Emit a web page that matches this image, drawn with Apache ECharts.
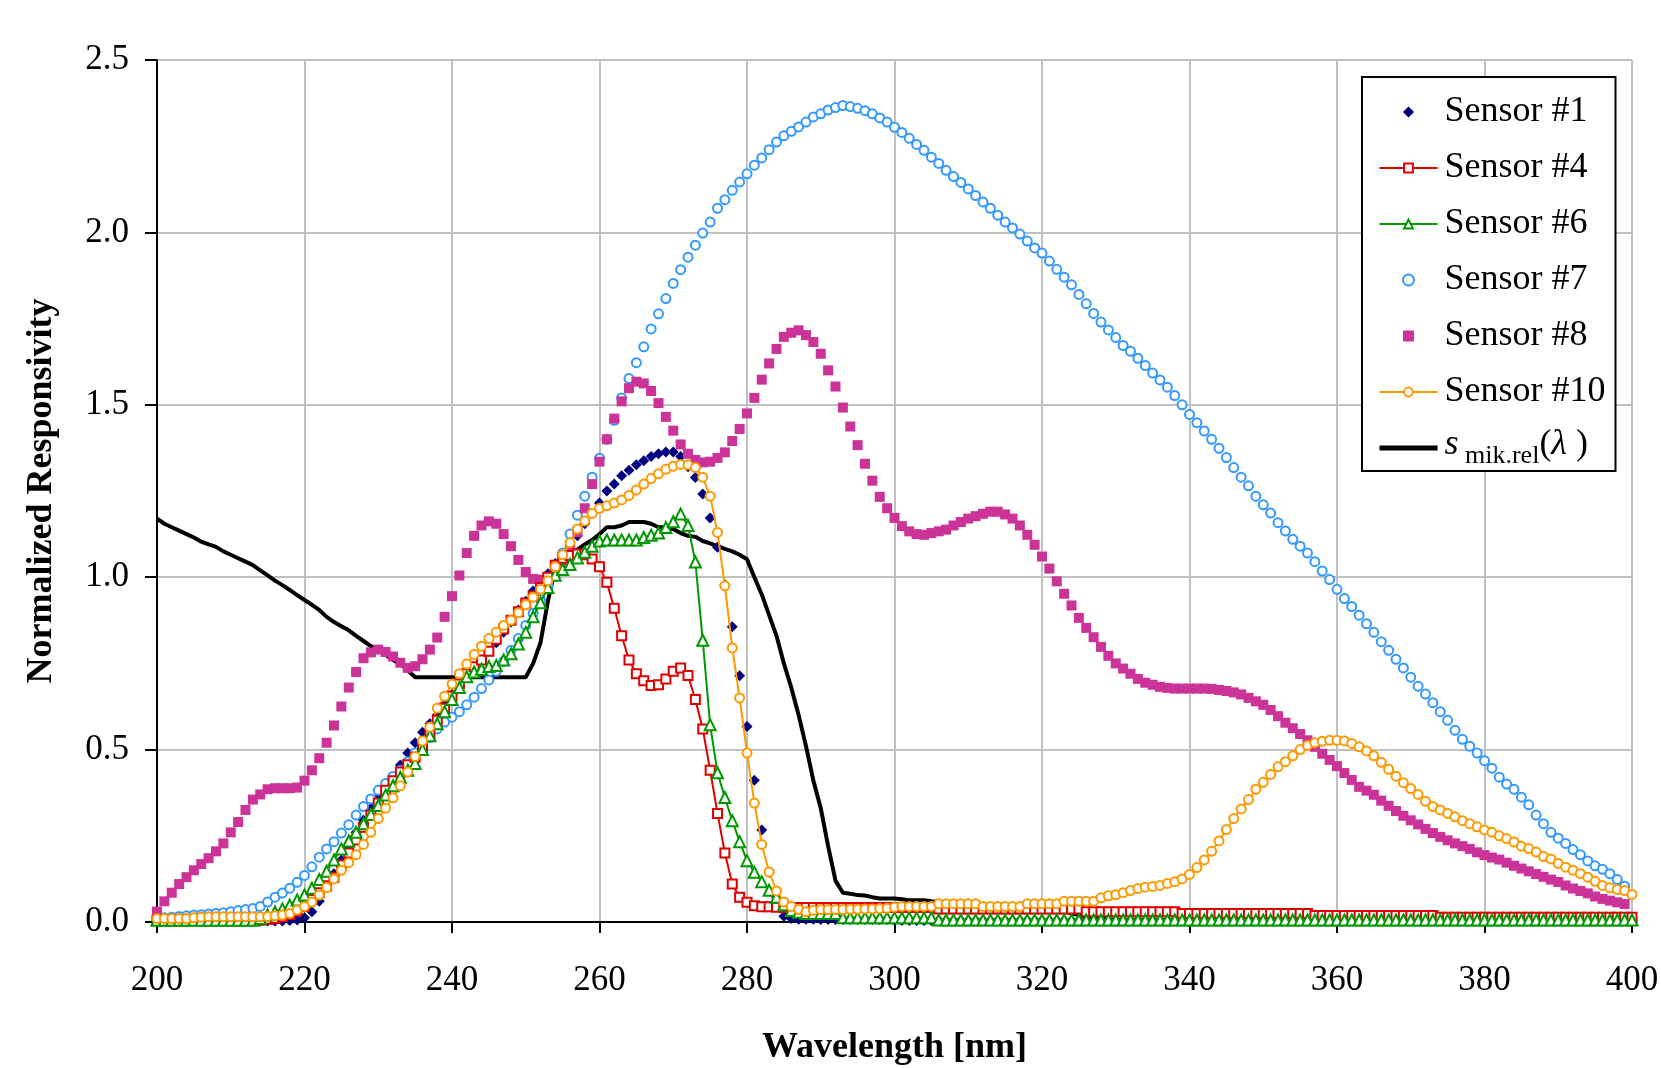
<!DOCTYPE html>
<html>
<head>
<meta charset="utf-8">
<title>Normalized Responsivity</title>
<script src="https://cdn.jsdelivr.net/npm/echarts@6.0.0/dist/echarts.min.js"></script>
<style>
  html, body { margin: 0; padding: 0; background: #fff; }
  #chart { width: 1661px; height: 1068px; }
</style>
</head>
<body>
<div id="chart"></div>
<script>
// wavelength grid, 1 nm steps
const wavelengths = [
  200, 201, 202, 203, 204, 205, 206, 207, 208, 209, 210, 211, 212, 213, 214, 215, 216, 217, 218, 219,
  220, 221, 222, 223, 224, 225, 226, 227, 228, 229, 230, 231, 232, 233, 234, 235, 236, 237, 238, 239,
  240, 241, 242, 243, 244, 245, 246, 247, 248, 249, 250, 251, 252, 253, 254, 255, 256, 257, 258, 259,
  260, 261, 262, 263, 264, 265, 266, 267, 268, 269, 270, 271, 272, 273, 274, 275, 276, 277, 278, 279,
  280, 281, 282, 283, 284, 285, 286, 287, 288, 289, 290, 291, 292, 293, 294, 295, 296, 297, 298, 299,
  300, 301, 302, 303, 304, 305, 306, 307, 308, 309, 310, 311, 312, 313, 314, 315, 316, 317, 318, 319,
  320, 321, 322, 323, 324, 325, 326, 327, 328, 329, 330, 331, 332, 333, 334, 335, 336, 337, 338, 339,
  340, 341, 342, 343, 344, 345, 346, 347, 348, 349, 350, 351, 352, 353, 354, 355, 356, 357, 358, 359,
  360, 361, 362, 363, 364, 365, 366, 367, 368, 369, 370, 371, 372, 373, 374, 375, 376, 377, 378, 379,
  380, 381, 382, 383, 384, 385, 386, 387, 388, 389, 390, 391, 392, 393, 394, 395, 396, 397, 398, 399,
  400
];

const sensor1 = [
  0.003, 0.003, 0.003, 0.003, 0.003, 0.003, 0.003, 0.003, 0.003, 0.003, // 200
  0.003, 0.003, 0.003, 0.003, 0.003, 0.003, 0.003, 0.003, 0.004, 0.006, // 210
  0.012, 0.03, 0.06, 0.1, 0.14, 0.18, 0.22, 0.26, 0.295, 0.33,          // 220
  0.36, 0.39, 0.42, 0.455, 0.49, 0.52, 0.55, 0.575, 0.6, 0.63,          // 230
  0.66, 0.685, 0.71, 0.735, 0.76, 0.785, 0.81, 0.84, 0.87, 0.905,       // 240
  0.93, 0.96, 0.985, 1.01, 1.04, 1.065, 1.09, 1.12, 1.155, 1.185,       // 250
  1.215, 1.25, 1.27, 1.294, 1.31, 1.326, 1.338, 1.35, 1.358, 1.363,     // 260
  1.363, 1.35, 1.32, 1.289, 1.241, 1.172, 1.087, 0.978, 0.856, 0.714,   // 270
  0.567, 0.411, 0.267, 0.144, 0.072, 0.017, 0.01, 0.008, 0.008, 0.008,  // 280
  0.007, 0.007, 0.007, 0.007, 0.007, 0.007, 0.007, 0.007, 0.007, 0.007, // 290
  0.004, 0.004, 0.004, 0.004, 0.004, 0.004, 0.004, 0.004, 0.004, 0.004, // 300
  0.004, 0.004, 0.004, 0.004, 0.004, 0.004, 0.004, 0.004, 0.004, 0.004, // 310
  0.004, 0.004, 0.004, 0.004, 0.004, 0.004, 0.004, 0.004, 0.004, 0.004, // 320
  0.004, 0.004, 0.004, 0.004, 0.004, 0.004, 0.004, 0.004, 0.004, 0.004, // 330
  0.004, 0.004, 0.004, 0.004, 0.004, 0.004, 0.004, 0.004, 0.004, 0.004, // 340
  0.004, 0.004, 0.004, 0.004, 0.004, 0.004, 0.004, 0.004, 0.004, 0.004, // 350
  0.004, 0.004, 0.004, 0.004, 0.004, 0.004, 0.004, 0.004, 0.004, 0.004, // 360
  0.004, 0.004, 0.004, 0.004, 0.004, 0.004, 0.004, 0.004, 0.004, 0.004, // 370
  0.004, 0.004, 0.004, 0.004, 0.004, 0.004, 0.004, 0.004, 0.004, 0.004, // 380
  0.004, 0.004, 0.004, 0.004, 0.004, 0.004, 0.004, 0.004, 0.004, 0.004, // 390
  0.004
];

const sensor4 = [
  0.005, 0.005, 0.005, 0.005, 0.005, 0.005, 0.005, 0.005, 0.005, 0.005, // 200
  0.005, 0.005, 0.005, 0.005, 0.005, 0.008, 0.01, 0.015, 0.022, 0.032,  // 210
  0.045, 0.065, 0.085, 0.105, 0.13, 0.165, 0.2, 0.238, 0.275, 0.31,     // 220
  0.345, 0.382, 0.41, 0.435, 0.456, 0.478, 0.505, 0.545, 0.585, 0.62,   // 230
  0.655, 0.69, 0.72, 0.74, 0.76, 0.785, 0.82, 0.85, 0.875, 0.9,         // 240
  0.925, 0.945, 0.97, 1.0, 1.035, 1.055, 1.063, 1.067, 1.065, 1.053,    // 250
  1.03, 0.985, 0.91, 0.83, 0.76, 0.72, 0.7, 0.686, 0.688, 0.705,       // 260
  0.727, 0.737, 0.715, 0.645, 0.56, 0.44, 0.315, 0.2, 0.11, 0.072,     // 270
  0.057, 0.047, 0.044, 0.044, 0.043, 0.042, 0.042, 0.042, 0.042, 0.042, // 280
  0.042, 0.042, 0.042, 0.042, 0.042, 0.042, 0.042, 0.042, 0.042, 0.042, // 290
  0.042, 0.042, 0.042, 0.042, 0.042, 0.042, 0.038, 0.038, 0.038, 0.038, // 300
  0.038, 0.038, 0.038, 0.038, 0.038, 0.038, 0.038, 0.038, 0.038, 0.038, // 310
  0.038, 0.038, 0.038, 0.038, 0.038, 0.038, 0.03, 0.03, 0.03, 0.03,     // 320
  0.03, 0.03, 0.03, 0.03, 0.03, 0.03, 0.03, 0.03, 0.03, 0.025,          // 330
  0.025, 0.025, 0.025, 0.025, 0.025, 0.025, 0.025, 0.025, 0.025, 0.025, // 340
  0.025, 0.025, 0.025, 0.025, 0.025, 0.025, 0.025, 0.019, 0.019, 0.019, // 350
  0.019, 0.019, 0.019, 0.019, 0.019, 0.019, 0.019, 0.019, 0.019, 0.019, // 360
  0.019, 0.019, 0.019, 0.019, 0.014, 0.014, 0.014, 0.014, 0.014, 0.014, // 370
  0.014, 0.014, 0.014, 0.014, 0.014, 0.014, 0.014, 0.014, 0.014, 0.014, // 380
  0.014, 0.014, 0.014, 0.014, 0.014, 0.014, 0.014, 0.014, 0.014, 0.014, // 390
  0.014
];

const sensor6 = [
  0.005, 0.005, 0.005, 0.005, 0.005, 0.005, 0.005, 0.005, 0.005, 0.005, // 200
  0.005, 0.005, 0.005, 0.005, 0.01, 0.02, 0.029, 0.038, 0.049, 0.064,  // 210
  0.078, 0.098, 0.123, 0.147, 0.18, 0.212, 0.235, 0.26, 0.285, 0.312,  // 220
  0.338, 0.368, 0.395, 0.42, 0.44, 0.46, 0.5, 0.54, 0.575, 0.61,       // 230
  0.645, 0.68, 0.711, 0.725, 0.733, 0.741, 0.744, 0.76, 0.778, 0.806,  // 240
  0.84, 0.885, 0.926, 0.97, 1.006, 1.022, 1.037, 1.056, 1.072, 1.09,   // 250
  1.105, 1.108, 1.108, 1.108, 1.108, 1.108, 1.115, 1.122, 1.128, 1.144, // 260
  1.161, 1.183, 1.15, 1.044, 0.817, 0.572, 0.433, 0.361, 0.294, 0.233, // 270
  0.178, 0.144, 0.117, 0.092, 0.072, 0.05, 0.033, 0.028, 0.025, 0.025, // 280
  0.025, 0.025, 0.025, 0.012, 0.012, 0.012, 0.012, 0.012, 0.012, 0.012, // 290
  0.012, 0.012, 0.012, 0.012, 0.012, 0.012, 0.006, 0.006, 0.006, 0.006, // 300
  0.006, 0.006, 0.006, 0.006, 0.006, 0.006, 0.006, 0.006, 0.006, 0.006, // 310
  0.006, 0.006, 0.006, 0.006, 0.006, 0.006, 0.006, 0.006, 0.006, 0.006, // 320
  0.006, 0.006, 0.006, 0.006, 0.006, 0.006, 0.006, 0.006, 0.006, 0.006, // 330
  0.006, 0.006, 0.006, 0.006, 0.006, 0.006, 0.006, 0.006, 0.006, 0.006, // 340
  0.006, 0.006, 0.006, 0.006, 0.006, 0.006, 0.006, 0.006, 0.006, 0.006, // 350
  0.006, 0.006, 0.006, 0.006, 0.006, 0.006, 0.006, 0.006, 0.006, 0.006, // 360
  0.006, 0.006, 0.006, 0.006, 0.006, 0.006, 0.006, 0.006, 0.006, 0.006, // 370
  0.006, 0.006, 0.006, 0.006, 0.006, 0.006, 0.006, 0.006, 0.006, 0.006, // 380
  0.006, 0.006, 0.006, 0.006, 0.006, 0.006, 0.006, 0.006, 0.006, 0.006, // 390
  0.006
];

const sensor7 = [
  0.01, 0.012, 0.014, 0.016, 0.018, 0.02, 0.021, 0.023, 0.025, 0.027,   // 200
  0.03, 0.033, 0.036, 0.039, 0.045, 0.058, 0.072, 0.084, 0.098, 0.115,  // 210
  0.135, 0.16, 0.188, 0.212, 0.233, 0.258, 0.282, 0.31, 0.335, 0.357,   // 220
  0.382, 0.402, 0.422, 0.44, 0.465, 0.49, 0.51, 0.535, 0.56, 0.58,      // 230
  0.594, 0.61, 0.63, 0.652, 0.677, 0.702, 0.727, 0.756, 0.788, 0.822,   // 240
  0.86, 0.895, 0.935, 0.975, 1.015, 1.07, 1.125, 1.18, 1.235, 1.29,     // 250
  1.345, 1.4, 1.455, 1.52, 1.576, 1.622, 1.668, 1.72, 1.764, 1.808,     // 260
  1.852, 1.892, 1.928, 1.963, 1.998, 2.03, 2.07, 2.095, 2.122, 2.146,   // 270
  2.17, 2.195, 2.216, 2.24, 2.262, 2.28, 2.293, 2.306, 2.32, 2.335,     // 280
  2.344, 2.355, 2.362, 2.368, 2.365, 2.36, 2.353, 2.344, 2.332, 2.32,   // 290
  2.305, 2.29, 2.273, 2.255, 2.238, 2.218, 2.2, 2.18, 2.162, 2.145,     // 300
  2.126, 2.107, 2.088, 2.07, 2.05, 2.03, 2.013, 1.995, 1.975, 1.955,    // 310
  1.94, 1.917, 1.893, 1.87, 1.848, 1.82, 1.793, 1.765, 1.74, 1.717,     // 320
  1.695, 1.672, 1.655, 1.635, 1.614, 1.592, 1.572, 1.551, 1.527, 1.5,   // 330
  1.472, 1.448, 1.424, 1.4, 1.374, 1.347, 1.318, 1.29, 1.265, 1.235,    // 340
  1.21, 1.186, 1.158, 1.134, 1.11, 1.09, 1.07, 1.045, 1.018, 0.993,     // 350
  0.965, 0.938, 0.915, 0.89, 0.865, 0.84, 0.813, 0.788, 0.762, 0.737,   // 360
  0.71, 0.684, 0.661, 0.636, 0.61, 0.585, 0.556, 0.53, 0.51, 0.49,      // 370
  0.468, 0.446, 0.42, 0.4, 0.385, 0.362, 0.34, 0.31, 0.285, 0.26,       // 380
  0.243, 0.228, 0.21, 0.195, 0.177, 0.163, 0.153, 0.14, 0.123, 0.104,   // 390
  0.005
];

const sensor8 = [
  0.03, 0.06, 0.085, 0.11, 0.13, 0.15, 0.168, 0.185, 0.205, 0.228,     // 200
  0.26, 0.29, 0.325, 0.355, 0.37, 0.385, 0.388, 0.388, 0.388, 0.39,    // 210
  0.41, 0.44, 0.475, 0.52, 0.57, 0.625, 0.68, 0.725, 0.765, 0.782,     // 220
  0.79, 0.783, 0.77, 0.752, 0.737, 0.742, 0.762, 0.79, 0.825, 0.885,   // 230
  0.945, 1.005, 1.07, 1.12, 1.15, 1.162, 1.155, 1.125, 1.09, 1.05,     // 240
  1.015, 0.995, 0.993, 0.995, 1.01, 1.04, 1.08, 1.13, 1.2, 1.27,       // 250
  1.335, 1.4, 1.46, 1.51, 1.548, 1.567, 1.562, 1.54, 1.505, 1.465,     // 260
  1.425, 1.385, 1.358, 1.34, 1.333, 1.335, 1.346, 1.362, 1.395, 1.43,  // 270
  1.475, 1.52, 1.573, 1.62, 1.662, 1.697, 1.709, 1.716, 1.702, 1.682,  // 280
  1.648, 1.6, 1.553, 1.492, 1.437, 1.383, 1.329, 1.28, 1.233, 1.2,     // 290
  1.172, 1.148, 1.133, 1.125, 1.123, 1.128, 1.133, 1.138, 1.15, 1.16,  // 300
  1.17, 1.177, 1.184, 1.19, 1.19, 1.182, 1.17, 1.15, 1.123, 1.094,     // 310
  1.06, 1.025, 0.988, 0.952, 0.918, 0.882, 0.853, 0.826, 0.798, 0.772, // 320
  0.75, 0.735, 0.72, 0.705, 0.694, 0.688, 0.682, 0.679, 0.677, 0.677,  // 330
  0.677, 0.677, 0.677, 0.676, 0.673, 0.67, 0.666, 0.66, 0.65, 0.64,    // 340
  0.63, 0.615, 0.597, 0.578, 0.562, 0.545, 0.527, 0.508, 0.488, 0.47,  // 350
  0.452, 0.432, 0.412, 0.392, 0.381, 0.369, 0.352, 0.337, 0.322, 0.308, // 360
  0.295, 0.283, 0.27, 0.258, 0.247, 0.237, 0.228, 0.22, 0.212, 0.202,  // 370
  0.194, 0.187, 0.181, 0.172, 0.163, 0.155, 0.147, 0.139, 0.131, 0.123, // 380
  0.116, 0.106, 0.097, 0.09, 0.083, 0.074, 0.067, 0.062, 0.057, 0.052, // 390
  0.01
];

const sensor10 = [
  0.01, 0.01, 0.01, 0.01, 0.01, 0.012, 0.014, 0.015, 0.015, 0.015,     // 200
  0.015, 0.015, 0.015, 0.015, 0.015, 0.016, 0.018, 0.02, 0.025, 0.035, // 210
  0.045, 0.058, 0.078, 0.1, 0.125, 0.15, 0.172, 0.195, 0.225, 0.26,    // 220
  0.3, 0.33, 0.36, 0.395, 0.435, 0.48, 0.525, 0.565, 0.62, 0.655,      // 230
  0.69, 0.72, 0.748, 0.776, 0.8, 0.822, 0.84, 0.86, 0.875, 0.897,      // 240
  0.92, 0.942, 0.965, 0.99, 1.03, 1.065, 1.1, 1.14, 1.163, 1.185,      // 250
  1.2, 1.207, 1.215, 1.224, 1.237, 1.253, 1.27, 1.286, 1.3, 1.313,     // 260
  1.322, 1.327, 1.326, 1.318, 1.29, 1.235, 1.13, 0.975, 0.795, 0.65,   // 270
  0.49, 0.345, 0.225, 0.145, 0.09, 0.058, 0.045, 0.036, 0.03, 0.034,   // 280
  0.036, 0.036, 0.036, 0.036, 0.037, 0.037, 0.038, 0.038, 0.039, 0.04, // 290
  0.043, 0.045, 0.045, 0.045, 0.045, 0.045, 0.053, 0.053, 0.053, 0.053, // 300
  0.053, 0.053, 0.045, 0.045, 0.045, 0.045, 0.045, 0.045, 0.053, 0.053, // 310
  0.053, 0.053, 0.053, 0.06, 0.06, 0.06, 0.06, 0.06, 0.07, 0.076,     // 320
  0.079, 0.085, 0.091, 0.097, 0.101, 0.103, 0.106, 0.112, 0.117, 0.125, // 330
  0.138, 0.158, 0.18, 0.205, 0.235, 0.268, 0.3, 0.328, 0.355, 0.385,   // 340
  0.405, 0.428, 0.45, 0.465, 0.482, 0.5, 0.512, 0.52, 0.524, 0.527,    // 350
  0.527, 0.525, 0.518, 0.508, 0.496, 0.482, 0.463, 0.443, 0.423, 0.404, // 360
  0.387, 0.37, 0.35, 0.335, 0.325, 0.315, 0.305, 0.294, 0.285, 0.276,  // 370
  0.267, 0.26, 0.25, 0.242, 0.232, 0.22, 0.213, 0.203, 0.19, 0.183,    // 380
  0.17, 0.159, 0.15, 0.14, 0.13, 0.118, 0.106, 0.099, 0.094, 0.091,    // 390
  0.08
];

// s_mik.rel(lambda)
const sMikRel = [
  1.17, 1.155, 1.145, 1.135, 1.125, 1.115, 1.103, 1.095, 1.088, 1.075, // 200
  1.065, 1.055, 1.045, 1.035, 1.02, 1.005, 0.99, 0.977, 0.963, 0.948,  // 210
  0.934, 0.92, 0.905, 0.885, 0.87, 0.858, 0.846, 0.83, 0.815, 0.8,     // 220
  0.79, 0.775, 0.76, 0.748, 0.73, 0.71, 0.71, 0.71, 0.71, 0.71,        // 230
  0.71, 0.71, 0.71, 0.71, 0.71, 0.71, 0.71, 0.71, 0.71, 0.71,          // 240
  0.71, 0.75, 0.81, 0.93, 1.028, 1.05, 1.07, 1.08, 1.095, 1.108,       // 250
  1.125, 1.145, 1.145, 1.15, 1.16, 1.16, 1.16, 1.155, 1.145, 1.145,    // 260
  1.14, 1.128, 1.12, 1.117, 1.105, 1.098, 1.09, 1.082, 1.075, 1.065,   // 270
  1.052, 1.0, 0.95, 0.89, 0.83, 0.75, 0.68, 0.6, 0.51, 0.41,           // 280
  0.33, 0.22, 0.12, 0.085, 0.082, 0.078, 0.077, 0.072, 0.068, 0.068,   // 290
  0.068, 0.066, 0.063, 0.063, 0.063, 0.06, 0.058, 0.056, 0.054, 0.053, // 300
  0.052, 0.05, 0.05, 0.049, 0.048, 0.048, 0.047, 0.046, 0.046, 0.045,  // 310
  0.045, 0.04, 0.035, 0.03, 0.025, 0.02, 0.015, 0.012, 0.01, 0.008,    // 320
  0.006, 0.005, 0.005, 0.005, 0.005, 0.005, 0.005, 0.005, 0.005, 0.005, // 330
  0.005, 0.005, 0.005, 0.005, 0.005, 0.005, 0.005, 0.005, 0.005, 0.005, // 340
  0.005, 0.005, 0.005, 0.005, 0.005, 0.005, 0.005, 0.005, 0.005, 0.005, // 350
  0.004, 0.004, 0.004, 0.004, 0.004, 0.004, 0.004, 0.004, 0.004, 0.004, // 360
  0.004, 0.004, 0.004, 0.004, 0.004, 0.004, 0.004, 0.004, 0.004, 0.004, // 370
  0.003, 0.003, 0.003, 0.003, 0.003, 0.003, 0.003, 0.003, 0.003, 0.003, // 380
  0.003, 0.003, 0.003, 0.003, 0.003, 0.003, 0.003, 0.003, 0.003, 0.003, // 390
  0.003
];

const yTickLabels = ['0.0', '0.5', '1.0', '1.5', '2.0', '2.5'];
const S_MIK = 's_mik.rel';
const FONT = '"Liberation Serif", "Times New Roman", serif';

const pairs = vals => wavelengths.map((w, i) => [w, vals[i]]);

const chart = echarts.init(document.getElementById('chart'));

chart.setOption({
  animation: false,
  backgroundColor: '#fff',
  grid: { left: 157, right: 29, top: 60, bottom: 146, containLabel: false, outerBoundsMode: 'none' },
  xAxis: {
    type: 'value',
    min: 200,
    max: 400,
    interval: 20,
    name: 'Wavelength [nm]',
    nameLocation: 'middle',
    nameGap: 108,
    nameTextStyle: { fontFamily: FONT, fontWeight: 'bold', fontSize: 36, color: '#000' },
    axisLine: { show: true, onZero: false, lineStyle: { color: '#000', width: 2 } },
    axisTick: { show: true, length: 11, lineStyle: { color: '#000', width: 2 } },
    axisLabel: { fontFamily: FONT, fontSize: 35, color: '#000', margin: 41 },
    splitLine: { show: true, lineStyle: { color: '#c0c0c0', width: 2 } }
  },
  yAxis: {
    type: 'value',
    min: 0,
    max: 2.5,
    interval: 0.5,
    name: 'Normalized Responsivity',
    nameLocation: 'middle',
    nameGap: 97,
    nameRotate: 90,
    nameTextStyle: { fontFamily: FONT, fontWeight: 'bold', fontSize: 36, color: '#000' },
    axisLine: { show: true, lineStyle: { color: '#000', width: 2 } },
    axisTick: { show: true, length: 12, lineStyle: { color: '#000', width: 2 } },
    axisLabel: {
      fontFamily: FONT, fontSize: 35, color: '#000', margin: 28,
      formatter: v => yTickLabels[Math.round(v / 0.5)]
    },
    splitLine: { show: true, lineStyle: { color: '#c0c0c0', width: 2 } }
  },
  legend: {
    orient: 'vertical',
    left: 1362,
    top: 77,
    padding: [14, 10, 2, 15],
    backgroundColor: '#fff',
    borderColor: '#000',
    borderWidth: 2,
    borderRadius: 0,
    itemWidth: 58,
    itemHeight: 11,
    itemGap: 14,
    symbolKeepAspect: true,
    data: [
      { name: 'Sensor #1', icon: 'path://M5,0L10,5L5,10L0,5Z', itemStyle: { opacity: 1 } },
      'Sensor #4',
      'Sensor #6',
      { name: 'Sensor #7', itemStyle: { opacity: 1 } },
      { name: 'Sensor #8', icon: 'path://M0,0L10,0L10,10L0,10Z', itemStyle: { opacity: 1 } },
      'Sensor #10',
      { name: S_MIK, itemStyle: { opacity: 0 }, lineStyle: { color: '#000', width: 5 } }
    ],
    formatter: name => name === S_MIK ? '{i|s}{sub| mik.rel}{n|(}{i|λ}{n| )}' : name,
    textStyle: {
      fontFamily: FONT,
      fontSize: 36,
      color: '#000',
      lineHeight: 42,
      padding: [0, 0, 0, 2],
      rich: {
        i: { fontFamily: FONT, fontSize: 36, fontStyle: 'italic', color: '#000', lineHeight: 42, verticalAlign: 'top' },
        n: { fontFamily: FONT, fontSize: 36, color: '#000', lineHeight: 42, verticalAlign: 'top' },
        sub: { fontFamily: FONT, fontSize: 26, color: '#000', lineHeight: 42, verticalAlign: 'bottom' }
      }
    }
  },
  series: [
    {
      name: 'Sensor #1',
      type: 'scatter',
      symbol: 'diamond',
      symbolSize: 11,
      itemStyle: { color: '#000080', opacity: 1 },
      data: pairs(sensor1)
    },
    {
      name: 'Sensor #4',
      type: 'line',
      symbol: 'emptyRect',
      symbolSize: 9,
      lineStyle: { color: '#e00000', width: 2 },
      itemStyle: { color: '#e00000', borderWidth: 2 },
      data: pairs(sensor4)
    },
    {
      name: 'Sensor #6',
      type: 'line',
      symbol: 'emptyTriangle',
      symbolSize: 11,
      lineStyle: { color: '#009900', width: 2 },
      itemStyle: { color: '#009900', borderWidth: 2 },
      data: pairs(sensor6)
    },
    {
      name: 'Sensor #7',
      type: 'scatter',
      symbol: 'emptyCircle',
      symbolSize: 9,
      itemStyle: { color: '#3399ff', borderWidth: 2, opacity: 1 },
      data: pairs(sensor7)
    },
    {
      name: 'Sensor #8',
      type: 'scatter',
      symbol: 'rect',
      symbolSize: 10,
      itemStyle: { color: '#cc3399', opacity: 1 },
      data: pairs(sensor8)
    },
    {
      name: 'Sensor #10',
      type: 'line',
      symbol: 'emptyCircle',
      symbolSize: 9,
      lineStyle: { color: '#ff9900', width: 2 },
      itemStyle: { color: '#ff9900', borderWidth: 2 },
      data: pairs(sensor10)
    },
    {
      name: S_MIK,
      type: 'line',
      z: 1,
      symbol: 'none',
      lineStyle: { color: '#000', width: 4 },
      itemStyle: { color: '#000' },
      data: pairs(sMikRel)
    }
  ]
});
</script>
</body>
</html>
